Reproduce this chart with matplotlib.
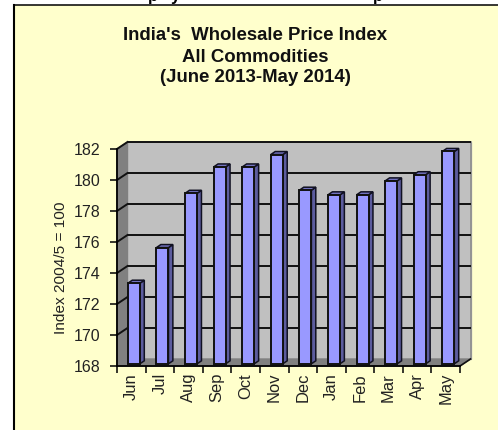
import matplotlib
matplotlib.use('Agg')
import matplotlib.pyplot as plt
from matplotlib.lines import Line2D
from matplotlib.patches import Rectangle
from matplotlib.transforms import Affine2D

months = ['Jun', 'Jul', 'Aug', 'Sep', 'Oct', 'Nov', 'Dec', 'Jan', 'Feb', 'Mar', 'Apr', 'May']
wpi = [173.2, 175.5, 179.0, 180.7, 180.7, 181.5, 179.2, 178.9, 178.9, 179.8, 180.2, 181.7]
yticks = [168, 170, 172, 174, 176, 178, 180, 182]
title_lines = ["India's  Wholesale Price Index", 'All Commodities', '(June 2013-May 2014)']
ylabel = 'Index 2004/5 = 100'

W, H = 498, 430
plt.rcParams['font.family'] = ['Liberation Sans', 'DejaVu Sans']
fig = plt.figure(figsize=(W / 100, H / 100), dpi=100, facecolor='white')

# yellow chart area, border only on top and left
fig.add_artist(Rectangle((14 / W, 0), 1, 1 - 5 / H, transform=fig.transFigure, fc='#FFFFCC', ec='none', zorder=-2))
fig.add_artist(Line2D([14 / W, 14 / W], [0, 1 - 5 / H], color='black', lw=1.5, zorder=-1))
fig.add_artist(Line2D([14 / W, 1], [1 - 5 / H, 1 - 5 / H], color='black', lw=1.1, zorder=-1))

# bits of the heading above, cut off by the crop
for ch, px in zip('pyp', [153, 175, 378]):
    fig.text(px / W, 1 - 0.5 / H, ch, fontsize=12, fontweight='bold', ha='center', va='baseline')

for line, py in zip(title_lines, [36, 57, 77]):
    fig.text(255 / W, 1 - py / H, line, fontsize=13.4, fontweight='bold', ha='center', va='center', color='#111111')

# axes = front plane of the 3d box
ax = fig.add_axes([117 / W, (H - 366) / H, 343 / W, 217 / H])
ax.set_xlim(0, len(months))
ax.set_ylim(168, 182)
ax.patch.set_visible(False)
for side in ['top', 'right']:
    ax.spines[side].set_visible(False)
for side in ['left', 'bottom']:
    ax.spines[side].set_linewidth(1.3)
    ax.spines[side].set_zorder(6)

back = ax.transData + Affine2D().translate(10.5, 7)
bar_shift = ax.transData + Affine2D().translate(2.6, 2.2)
bar_depth = ax.transData + Affine2D().translate(7, 5.2)
n = len(months)

# walls and floor
ax.fill([0, n, n, 0], [168, 168, 182, 182], transform=back, color='#C0C0C0', zorder=1, clip_on=False)
ax.plot([n, n], [168, 182], transform=back, color='#8C8C8C', lw=1.2, zorder=1.5, clip_on=False)

# left wall and floor need both planes, so go through display coords
inv = ax.transData.inverted()
def skew(pts):
    return zip(*[inv.transform(tr.transform((x, y))) for x, y, tr in pts])

lx, ly = skew([(0, 168, ax.transData), (0, 182, ax.transData), (0, 182, back), (0, 168, back)])
ax.fill(lx, ly, color='#808080', zorder=1.2, clip_on=False)
fx, fy = skew([(0, 168, ax.transData), (n, 168, ax.transData), (n, 168, back), (0, 168, back)])
ax.fill(fx, fy, color='#808080', zorder=1.2, clip_on=False)

# gridlines
for v in yticks[1:]:
    ax.plot([0, n], [v, v], transform=back, color='#111111', lw=1.4, zorder=2, clip_on=False, solid_capstyle='butt')
    gx, gy = skew([(0, v, ax.transData), (0, v, back)])
    ax.plot(gx, gy, color='#111111', lw=1.4, zorder=2, clip_on=False)
gx, gy = skew([(n, 168, ax.transData), (n, 168, back)])
ax.plot(gx, gy, color='#111111', lw=1.2, zorder=5, clip_on=False)

# bars: side, top, then front face
bw = 0.42
for i, v in enumerate(wpi):
    l = i + 0.5 - bw / 2
    r = i + 0.5 + bw / 2
    sx, sy = skew([(r, 168, bar_shift), (r, v, bar_shift), (r, v, bar_depth), (r, 168, bar_depth)])
    ax.fill(sx, sy, fc='#5C5C9E', ec='#111122', lw=1.1, zorder=3, clip_on=False)
    tx, ty = skew([(l, v, bar_shift), (r, v, bar_shift), (r, v, bar_depth), (l, v, bar_depth)])
    ax.fill(tx, ty, fc='#7272BF', ec='#111122', lw=1.1, zorder=3, clip_on=False)
ax.bar([i + 0.5 for i in range(n)], [v - 168 for v in wpi], bottom=168, width=bw, color='#9999FF',
       edgecolor='#111111', linewidth=1.4, transform=bar_shift, zorder=4, clip_on=False)

ax.set_yticks(yticks)
ax.set_xticks(range(n + 1))
ax.set_xticklabels([])
ax.set_xticks([i + 0.5 for i in range(n)], labels=months, minor=True)
ax.tick_params(axis='y', length=5, width=1.1, labelsize=11.5, pad=7, labelcolor='#222222')
ax.tick_params(axis='x', which='major', length=5, width=1.1)
ax.tick_params(axis='x', which='minor', length=0, labelsize=11.9, labelrotation=90, pad=5, labelcolor='#222222')
for lab in ax.get_xticklabels(minor=True):
    lab.set_va('top')
    lab.set_ha('center')

fig.text(61 / W, 1 - 267.5 / H, ylabel, fontsize=11.1, rotation=90, ha='center', va='center', color='#222222')

fig.savefig('out.png', dpi=100, facecolor=fig.get_facecolor())
